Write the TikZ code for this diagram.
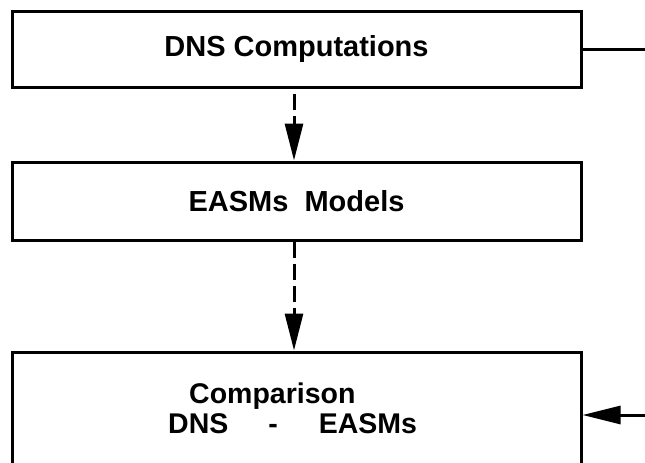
\documentclass[tikz,border=0pt]{standalone}
\usepackage{fontspec}
\setmainfont{Liberation Sans}
\usetikzlibrary{arrows.meta}
\tikzset{
  blockbox/.style={draw, line width=3pt, minimum width=569pt, inner sep=0pt,
    font=\bfseries\fontsize{29pt}{34pt}\selectfont},
  labeltext/.style={inner sep=0pt, font=\bfseries\fontsize{28.5pt}{34pt}\selectfont},
  flow/.style={line width=3pt, dash pattern=on 16pt off 6pt,
    -{Triangle[length=37pt,width=18pt]}},
  feed/.style={line width=3pt},
  feedin/.style={line width=3pt, -{Triangle[length=38pt,width=18pt]}}
}
\begin{document}
\begin{tikzpicture}[x=1pt,y=-1pt]
  \useasboundingbox (0,0) rectangle (645,463);
  \clip (0,0) rectangle (645,463);
  \fill[white] (0,0) rectangle (645,463);

  % processing chain
  \node[blockbox, minimum height=76pt] (dns) at (296.5,49.5) {DNS Computations};
  \node[blockbox, minimum height=78pt] (easm) at (296.5,201) {EASMs\ \ Models};
  \node[blockbox, minimum height=160pt] (cmp) at (296.5,432) {};

  \node[labeltext, anchor=base west] (cmpA) at (189,403) {Comparison};
  \node[labeltext, anchor=base west] (cmpB) at (168,433) {DNS\hspace{40pt}-\hspace{41pt}EASMs};

  % vertical dashed links
  \draw[flow, dash phase=17pt] (dns.south -| 294,0) -- (easm.north -| 294,0);
  \draw[flow] (easm.south -| 294,0) -- (cmp.north -| 294,0);

  % side connections running off to the right
  \coordinate (outR) at (660,49.5);
  \coordinate (inR) at (660,415);
  \draw[feed] (dns.east) -- (outR);
  \draw[feedin] (inR) -- (inR -| cmp.east);
\end{tikzpicture}
\end{document}
